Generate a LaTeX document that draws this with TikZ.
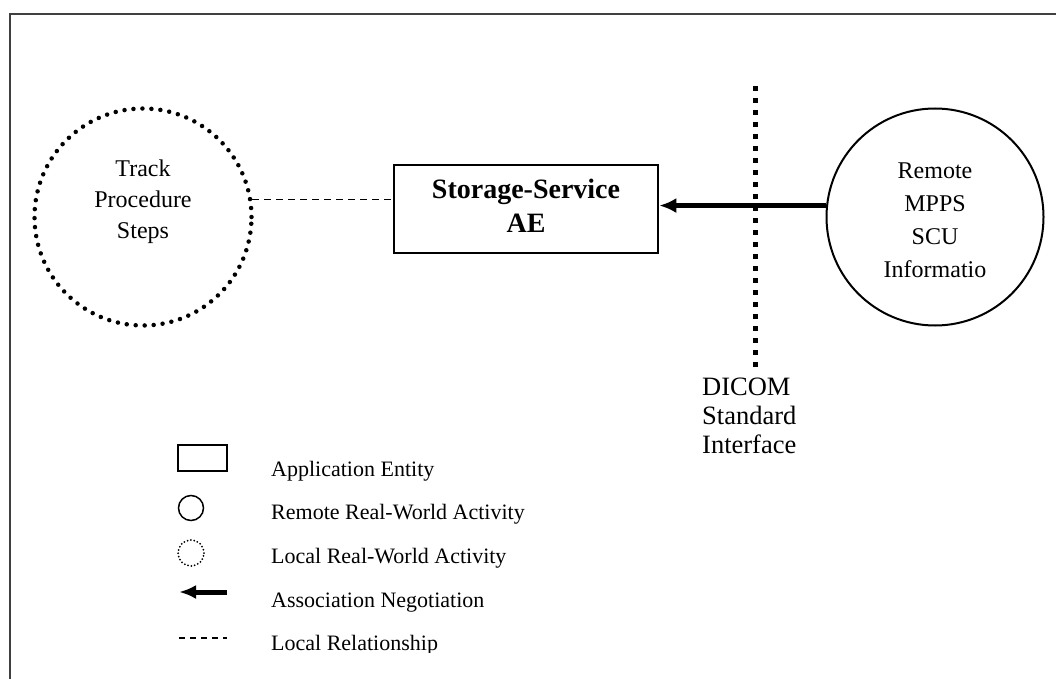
\documentclass[tikz,border=0pt]{standalone}
\usepackage{fontspec}
\setmainfont{Liberation Serif}
\usetikzlibrary{arrows.meta,calc}

\begin{document}
\begin{tikzpicture}[x=1pt, y=-1pt, >=latex,
    remoteact/.style={circle, draw, line width=2pt, minimum size=217pt, inner sep=0pt},
    localact/.style={circle, draw, line width=4.5pt, line cap=round, dash pattern=on 0pt off 9pt, minimum size=217pt, inner sep=0pt},
    aebox/.style={draw, line width=2.5pt, minimum width=264pt, minimum height=88pt, inner sep=0pt},
    txt/.style={align=center, inner sep=0pt, font=\fontsize{24}{31}\selectfont},
    legtxt/.style={anchor=base west, inner sep=0pt, font=\fontsize{22}{26}\selectfont},
    assoc/.style={line width=5pt, -{Latex[length=17pt,width=15pt]}},
    localrel/.style={line width=1.3pt, dash pattern=on 7pt off 5pt}]
\useasboundingbox (0,0) rectangle (1056,679);

% frame
\draw[line width=2pt, black!75] (10,679) -- (10,14) -- (1056,14);

% activities and AE
\node[localact] (track) at (143,217) {};
\node[txt] (tracktxt) at (143,202) {Track\\Procedure\\Steps};
\node[aebox] (ae) at (526,209) {};
\node[txt, font=\fontsize{28}{34}\selectfont\bfseries] (aetxt) at (526,206) {Storage-Service\\AE};
\node[remoteact] (remote) at (935,217) {};
\node[txt, font=\fontsize{24}{33}\selectfont] (remotetxt) at (935,220) {Remote\\MPPS\\SCU\\Informatio};

\draw[localrel] (track.9) -- (ae.west |- track.9);
\draw[assoc] (remote.174) -- (ae.east |- remote.174);

% DICOM interface
\coordinate (ifctop) at (755,86);
\coordinate (ifcbot) at (755,368);
\draw[line width=5pt, dash pattern=on 5pt off 7pt] (ifctop) -- (ifcbot);
\node[anchor=west, align=left, inner sep=0pt, font=\fontsize{26.5}{29}\selectfont] (dicom) at (702,416) {DICOM\\Standard\\Interface};

% legend
\node[draw, line width=1.5pt, minimum width=49pt, minimum height=26pt, inner sep=0pt] (legae) at (202.5,458) {};
\node[circle, draw, line width=1.5pt, minimum size=25pt, inner sep=0pt] (legremote) at (191,508) {};
\node[circle, draw, line width=2pt, line cap=round, dash pattern=on 0pt off 3.4pt, minimum size=26pt, inner sep=0pt] (leglocal) at (191,553) {};
\coordinate (legarra) at (227,592);
\coordinate (legarrb) at (179,592);
\draw[line width=5pt, -{Latex[length=17pt,width=14pt]}] (legarra) -- (legarrb);
\coordinate (legrela) at (179,638);
\coordinate (legrelb) at (227,638);
\draw[line width=1.3pt, dash pattern=on 6pt off 5pt] (legrela) -- (legrelb);

\node[legtxt] (legaetxt) at (271,476) {Application Entity};
\node[legtxt] (legremotetxt) at (271,519) {Remote Real-World Activity};
\node[legtxt] (leglocaltxt) at (271,563) {Local Real-World Activity};
\node[legtxt] (legarrtxt) at (271,607) {Association Negotiation};
\begin{scope}
\clip (0,0) rectangle (1056,652);
\node[legtxt] (legreltxt) at (271,650) {Local Relationship};
\end{scope}

\end{tikzpicture}
\end{document}
